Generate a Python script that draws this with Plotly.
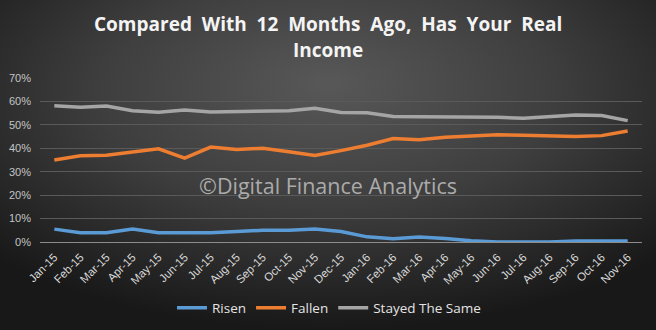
import base64
import plotly.graph_objects as go

months = ["Jan-15", "Feb-15", "Mar-15", "Apr-15", "May-15", "Jun-15", "Jul-15", "Aug-15",
          "Sep-15", "Oct-15", "Nov-15", "Dec-15", "Jan-16", "Feb-16", "Mar-16", "Apr-16",
          "May-16", "Jun-16", "Jul-16", "Aug-16", "Sep-16", "Oct-16", "Nov-16"]
risen = [5.5, 4.0, 4.0, 5.5, 4.0, 4.0, 4.0, 4.5, 5.0, 5.0, 5.5, 4.5, 2.2, 1.4, 2.1, 1.5,
         0.5, 0.0, 0.0, 0.0, 0.4, 0.4, 0.4]
fallen = [35.0, 36.8, 37.0, 38.5, 39.8, 35.8, 40.5, 39.5, 40.0, 38.5, 36.9, 39.0, 41.3, 44.2,
          43.6, 44.7, 45.2, 45.8, 45.6, 45.2, 45.0, 45.4, 47.4]
same = [58.2, 57.5, 58.0, 56.0, 55.4, 56.3, 55.5, 55.6, 55.6, 56.0, 57.1, 55.3, 55.2, 53.6,
        53.5, 53.5, 53.5, 53.2, 52.8, 53.4, 54.2, 54.0, 51.8]
yticks = [0, 10, 20, 30, 40, 50, 60, 70]
ytext = [f"{v}%" for v in yticks]

series = [("Risen", risen, "#5b9bd5"), ("Fallen", fallen, "#ed7d31"),
          ("Stayed The Same", same, "#a5a5a5")]

fig = go.Figure()
for name, vals, col in series:
    fig.add_trace(go.Scatter(x=months, y=vals, name=name, mode="lines",
                             line=dict(color=col, width=3.5)))

svg = ('<svg xmlns="http://www.w3.org/2000/svg" width="656" height="330">'
       '<defs><radialGradient id="g" cx="50%" cy="30%" r="70%" fx="50%" fy="25%">'
       '<stop offset="0%" stop-color="#585858"/><stop offset="50%" stop-color="#3e3e3e"/>'
       '<stop offset="100%" stop-color="#181818"/></radialGradient></defs>'
       '<rect width="656" height="330" fill="url(#g)"/></svg>')
src = "data:image/svg+xml;base64," + base64.b64encode(svg.encode()).decode()

PW, PH, L, T = 602, 164, 40, 78
title1 = "Compared&nbsp; With&nbsp; 12&nbsp; Months&nbsp; Ago,&nbsp; Has&nbsp; Your&nbsp; Real"
title2 = "Income"

fig.update_layout(
    width=656, height=330,
    margin=dict(l=L, r=14, t=T, b=88, autoexpand=False),
    paper_bgcolor="#2e2e2e", plot_bgcolor="rgba(0,0,0,0)",
    images=[dict(source=src, xref="paper", yref="paper", x=-L / PW, y=1 + T / PH,
                 sizex=656 / PW, sizey=330 / PH, xanchor="left", yanchor="top",
                 sizing="stretch", layer="below")],
    xaxis=dict(type="category", range=[-0.55, 22.55], tickangle=-45, automargin=False,
               tickfont=dict(family="Liberation Sans, sans-serif", size=11.5, color="#d8d8d8"),
               showgrid=False, showline=True, linecolor="#8c8c8c", linewidth=1,
               ticks="", zeroline=False, ticklabelstandoff=3),
    yaxis=dict(range=[0, 70], tickvals=yticks, ticktext=ytext, automargin=False,
               tickfont=dict(family="Liberation Sans, sans-serif", size=11, color="#c4c4c4"),
               gridcolor="#5a5a5a", gridwidth=1, zeroline=False, showline=False, ticks="",
               ticklabelstandoff=8),
    legend=dict(orientation="h", x=(329 - L) / PW, xanchor="center", yref="container",
                y=0.067, yanchor="middle",
                font=dict(family="Open Sans, sans-serif", size=13.5, color="#e4e4e4"),
                bgcolor="rgba(0,0,0,0)", itemwidth=30),
    showlegend=True,
    annotations=[
        dict(text="<b>" + title1 + "</b>", xref="paper",
             yref="paper", x=(328 - L) / PW, y=1 + (T - 24) / PH, xanchor="center",
             yanchor="middle", showarrow=False,
             font=dict(family="Open Sans, sans-serif", size=19, color="#f4f4f4")),
        dict(text="<b>" + title2 + "</b>", xref="paper", yref="paper", x=(328 - L) / PW,
             y=1 + (T - 50) / PH, xanchor="center", yanchor="middle", showarrow=False,
             font=dict(family="Open Sans, sans-serif", size=19, color="#f4f4f4")),
        dict(text="©Digital Finance Analytics", xref="paper", yref="paper",
             x=(328 - L) / PW, y=(242 - 185) / PH, xanchor="center", yanchor="middle",
             showarrow=False,
             font=dict(family="Open Sans, sans-serif", size=21.5, color="#ababab")),
    ],
)

fig.write_html("out.html")
